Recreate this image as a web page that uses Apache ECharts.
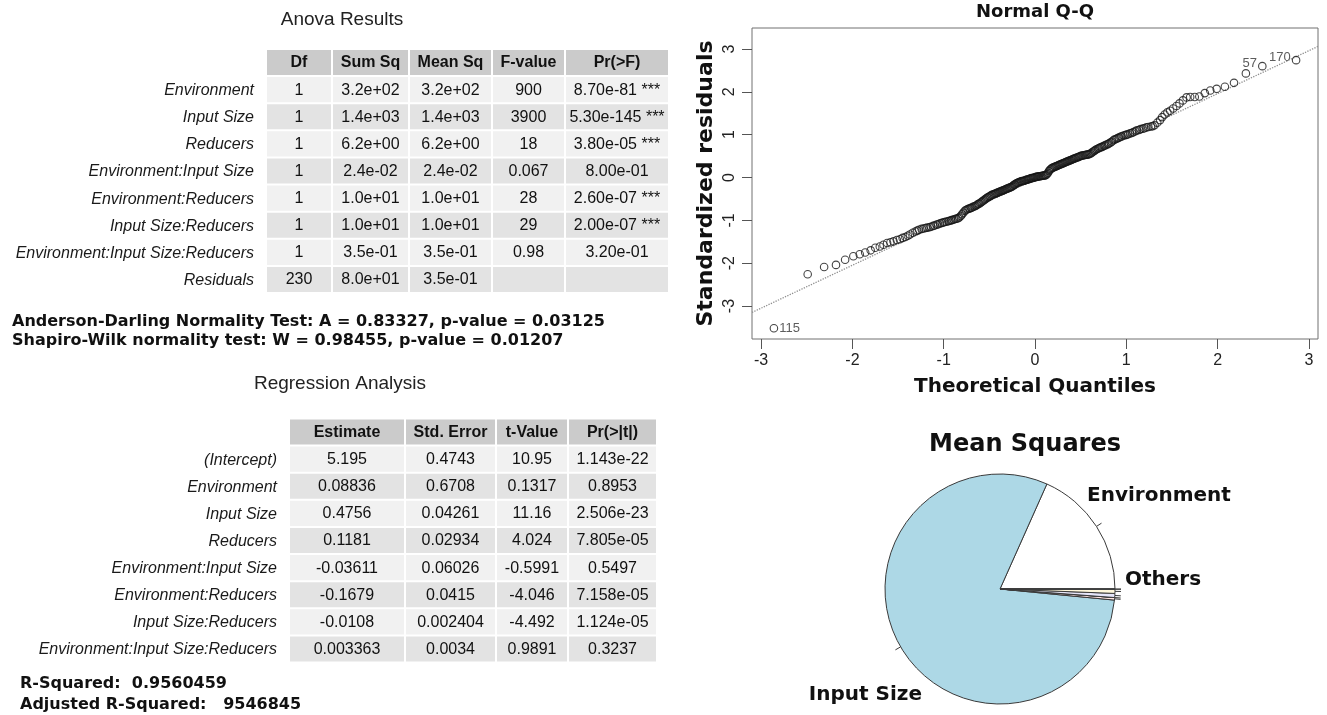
<!DOCTYPE html>
<html><head><meta charset="utf-8">
<script src="https://cdn.jsdelivr.net/npm/echarts@6/dist/echarts.min.js"></script>
<style>html,body{margin:0;padding:0;background:#fff}#c{width:1327px;height:715px}</style>
</head><body><div id="c"></div>
<script>
// ---------- ANOVA table ----------
const anovaRows = ['Environment','Input Size','Reducers','Environment:Input Size','Environment:Reducers','Input Size:Reducers','Environment:Input Size:Reducers','Residuals'];
const anovaCols = ['Df','Sum Sq','Mean Sq','F-value','Pr(>F)'];
const anovaDf = ['1','1','1','1','1','1','1','230'];
const anovaSumSq = ['3.2e+02','1.4e+03','6.2e+00','2.4e-02','1.0e+01','1.0e+01','3.5e-01','8.0e+01'];
const anovaMeanSq = ['3.2e+02','1.4e+03','6.2e+00','2.4e-02','1.0e+01','1.0e+01','3.5e-01','3.5e-01'];
const anovaF = ['900','3900','18','0.067','28','29','0.98',''];
const anovaP = ['8.70e-81 ***','5.30e-145 ***','3.80e-05 ***','8.00e-01','2.60e-07 ***','2.00e-07 ***','3.20e-01',''];

// ---------- Regression table ----------
const regRows = ['(Intercept)','Environment','Input Size','Reducers','Environment:Input Size','Environment:Reducers','Input Size:Reducers','Environment:Input Size:Reducers'];
const regCols = ['Estimate','Std. Error','t-Value','Pr(>|t|)'];
const regEstimate = ['5.195','0.08836','0.4756','0.1181','-0.03611','-0.1679','-0.0108','0.003363'];
const regStdErr = ['0.4743','0.6708','0.04261','0.02934','0.06026','0.0415','0.002404','0.0034'];
const regT = ['10.95','0.1317','11.16','4.024','-0.5991','-4.046','-4.492','0.9891'];
const regP = ['1.143e-22','0.8953','2.506e-23','7.805e-05','0.5497','7.158e-05','1.124e-05','0.3237'];

// ---------- Test statistics text ----------
const normalityTests = ['Anderson-Darling Normality Test: A = 0.83327, p-value = 0.03125','Shapiro-Wilk normality test: W = 0.98455, p-value = 0.01207'];
const rSquaredLines = ['R-Squared:  0.9560459','Adjusted R-Squared:   9546845'];

// ---------- Normal Q-Q (theoretical quantile, standardized residual) ----------
const qqTheoretical = [
-2.86,-2.49,-2.31,-2.18,-2.08,-1.99,-1.92,-1.86,-1.80,-1.75,-1.70,-1.66,-1.62,-1.583,-1.55,-1.513,-1.48,-1.45,-1.42,-1.393,
-1.37,-1.339,-1.31,-1.289,-1.27,-1.242,-1.22,-1.198,-1.18,-1.156,-1.14,-1.115,-1.10,-1.077,-1.06,-1.04,-1.02,-1.004,-0.99,-0.97,
-0.95,-0.937,-0.92,-0.905,-0.89,-0.873,-0.86,-0.843,-0.83,-0.813,-0.80,-0.784,-0.77,-0.756,-0.74,-0.728,-0.715,-0.701,-0.69,-0.674,
-0.66,-0.648,-0.635,-0.622,-0.61,-0.597,-0.585,-0.572,-0.56,-0.548,-0.535,-0.523,-0.511,-0.499,-0.487,-0.476,-0.465,-0.452,-0.44,-0.429,
-0.417,-0.406,-0.395,-0.383,-0.372,-0.361,-0.35,-0.338,-0.327,-0.316,-0.305,-0.294,-0.283,-0.272,-0.261,-0.25,-0.239,-0.228,-0.218,-0.207,
-0.196,-0.185,-0.175,-0.164,-0.153,-0.143,-0.132,-0.121,-0.111,-0.10,-0.09,-0.079,-0.068,-0.058,-0.047,-0.037,-0.026,-0.016,-0.005,
0.005,0.016,0.026,0.037,0.047,0.058,0.068,0.079,0.09,0.10,0.111,0.121,0.132,0.143,0.153,0.164,0.175,0.185,0.196,0.207,
0.218,0.228,0.239,0.25,0.261,0.272,0.283,0.294,0.305,0.316,0.327,0.338,0.35,0.361,0.372,0.383,0.395,0.406,0.417,0.429,
0.44,0.452,0.465,0.476,0.487,0.499,0.511,0.523,0.535,0.548,0.56,0.572,0.585,0.597,0.61,0.622,0.635,0.648,0.66,0.674,
0.69,0.701,0.715,0.728,0.74,0.756,0.77,0.784,0.80,0.813,0.83,0.843,0.86,0.873,0.89,0.905,0.92,0.937,0.95,0.97,
0.99,1.004,1.02,1.04,1.06,1.077,1.10,1.115,1.14,1.156,1.18,1.198,1.22,1.242,1.27,1.289,1.31,1.339,1.37,1.393,
1.42,1.45,1.48,1.513,1.55,1.583,1.62,1.66,1.70,1.75,1.80,1.86,1.92,1.99,2.08,2.18,2.31,2.49,2.86];
const qqResiduals = [
-3.52,-2.26,-2.09,-2.04,-1.92,-1.84,-1.79,-1.75,-1.70,-1.64,-1.61,-1.57,-1.53,-1.51,-1.49,-1.46,-1.44,-1.41,-1.39,-1.36,
-1.33,-1.29,-1.26,-1.24,-1.22,-1.20,-1.19,-1.18,-1.17,-1.16,-1.15,-1.13,-1.12,-1.10,-1.09,-1.07,-1.06,-1.05,-1.04,-1.03,
-1.02,-1.01,-1.00,-0.99,-0.98,-0.97,-0.96,-0.95,-0.93,-0.90,-0.86,-0.82,-0.78,-0.76,-0.74,-0.73,-0.72,-0.71,-0.70,-0.68,
-0.67,-0.66,-0.64,-0.62,-0.61,-0.59,-0.57,-0.55,-0.53,-0.51,-0.49,-0.47,-0.46,-0.44,-0.43,-0.41,-0.40,-0.39,-0.38,-0.37,
-0.36,-0.35,-0.34,-0.33,-0.32,-0.31,-0.30,-0.29,-0.28,-0.27,-0.26,-0.25,-0.24,-0.23,-0.22,-0.21,-0.19,-0.17,-0.16,-0.14,
-0.13,-0.12,-0.11,-0.10,-0.09,-0.085,-0.08,-0.075,-0.07,-0.06,-0.05,-0.045,-0.04,-0.03,-0.02,-0.015,-0.01,-0.005,0.00,
0.01,0.015,0.02,0.025,0.03,0.03,0.035,0.04,0.04,0.05,0.05,0.06,0.08,0.11,0.15,0.18,0.20,0.22,0.23,0.24,
0.25,0.26,0.27,0.28,0.29,0.30,0.31,0.32,0.33,0.34,0.35,0.36,0.37,0.38,0.39,0.40,0.41,0.42,0.43,0.44,
0.45,0.46,0.47,0.48,0.49,0.50,0.51,0.515,0.52,0.525,0.53,0.535,0.54,0.55,0.56,0.58,0.60,0.62,0.64,0.66,
0.67,0.69,0.70,0.71,0.72,0.74,0.75,0.77,0.78,0.80,0.82,0.84,0.87,0.89,0.90,0.92,0.93,0.95,0.96,0.98,
0.99,1.00,1.01,1.03,1.04,1.06,1.08,1.10,1.11,1.13,1.14,1.15,1.17,1.18,1.19,1.20,1.22,1.28,1.34,1.41,
1.47,1.52,1.56,1.61,1.67,1.73,1.80,1.87,1.88,1.88,1.89,1.97,2.03,2.07,2.12,2.21,2.43,2.60,2.74];
const qqPointIds = [{index: 0, id: '115', side: 'right'}, {index: qqTheoretical.length - 2, id: '57', side: 'left'}, {index: qqTheoretical.length - 1, id: '170', side: 'left'}];
const qqLineX = [-3.1, 3.1];
const qqLineY = [-3.15, 3.06];
const qqXTicks = [-3,-2,-1,0,1,2,3];
const qqYTicks = [-3,-2,-1,0,1,2,3];

// ---------- Pie ----------
const pieLabels = ['Environment','Input Size','Others','','','','',''];

// ---------- style / layout constants ----------
const pieColors = ['#ffffff','#add8e6','#ffe4e1','#e0ffff','#e6e6fa','#fff8dc'];
const pieLabelPos = {'Environment':[1087,496,'left'],'Input Size':[922,695,'right'],'Others':[1125,580,'left']};
const anovaColWidths = [66,77,83,73,104];
const regColWidths = [116,91,72,89];
const FONT_SANS = '"Liberation Sans", Arial, Helvetica, sans-serif';
const FONT_BOLD = '"DejaVu Sans", Verdana, sans-serif';

function buildCells(cols, columns) {
  const data = [], texts = [];
  cols.forEach((c, i) => { data.push([i, 0]); texts.push(c); });
  columns.forEach((arr, ci) => arr.forEach((v, ri) => { data.push([ci, ri + 1]); texts.push(v); }));
  return {data, texts};
}
function makeRender(colWidths, texts) {
  const edges = [0];
  colWidths.forEach(w => edges.push(edges[edges.length - 1] + w));
  return function (params, api) {
    const c = api.value(0), r = api.value(1);
    const p0 = api.coord([edges[c], r]);
    const p1 = api.coord([edges[c + 1], r]);
    const bh = api.size([0, 1])[1];
    const gap = 2;
    const x = p0[0], w = p1[0] - p0[0] - gap;
    const y = p0[1] - bh / 2, h = bh - gap;
    const header = r === 0;
    const fill = header ? '#cbcbcb' : (r % 2 === 1 ? '#f1f1f1' : '#e3e3e3');
    return {type: 'group', children: [
      {type: 'rect', shape: {x, y, width: w, height: h}, style: {fill}},
      {type: 'text', style: {x: x + w / 2, y: y + h / 2 + 0.5, text: texts[params.dataIndex], align: 'center', verticalAlign: 'middle',
        font: (header ? 'bold ' : '') + '16px ' + FONT_SANS, fill: '#111'}}
    ]};
  };
}
const anovaCells = buildCells(anovaCols, [anovaDf, anovaSumSq, anovaMeanSq, anovaF, anovaP]);
const regCells = buildCells(regCols, [regEstimate, regStdErr, regT, regP]);
const sumW = a => a.reduce((s, v) => s + v, 0);

function tableYAxis(gridIndex, rows) {
  return {type: 'category', gridIndex, data: [''].concat(rows), inverse: true,
    axisLine: {show: false}, axisTick: {show: false}, splitLine: {show: false},
    axisLabel: {fontStyle: 'italic', fontSize: 16, fontFamily: FONT_SANS, color: '#1a1a1a', margin: 13}};
}

const qqData = qqTheoretical.map((x, i) => {
  const item = {value: [x, qqResiduals[i]]};
  const lab = qqPointIds.find(p => p.index === i);
  if (lab) item.label = {show: true, formatter: lab.id, position: lab.side, distance: 1,
    fontSize: 13, fontFamily: FONT_SANS, color: '#333', offset: lab.side === 'left' ? [0, -3] : [0, 0]};
  return item;
});

const chart = echarts.init(document.getElementById('c'), null, {renderer: 'canvas'});
chart.setOption({
  animation: false,
  backgroundColor: '#ffffff',
  grid: [
    {left: 267, top: 50, width: sumW(anovaColWidths), height: 244},
    {left: 290, top: 419.5, width: sumW(regColWidths), height: 244},
    {left: 752, top: 28, width: 566, height: 311, show: true, borderColor: '#707070', borderWidth: 1, backgroundColor: 'transparent'}
  ],
  xAxis: [
    {type: 'value', gridIndex: 0, min: 0, max: sumW(anovaColWidths), show: false},
    {type: 'value', gridIndex: 1, min: 0, max: sumW(regColWidths), show: false},
    {type: 'value', gridIndex: 2, min: -3.1, max: 3.1,
      axisLine: {show: false, onZero: false},
      axisTick: {show: true, length: 10, customValues: qqXTicks, lineStyle: {color: '#555'}},
      axisLabel: {customValues: qqXTicks, fontSize: 16, fontFamily: FONT_SANS, color: '#222', margin: 14},
      splitLine: {show: false},
      name: 'Theoretical Quantiles', nameLocation: 'middle', nameGap: 38,
      nameTextStyle: {fontFamily: FONT_BOLD, fontWeight: 'bold', fontSize: 20, color: '#111'}}
  ],
  yAxis: [
    tableYAxis(0, anovaRows),
    tableYAxis(1, regRows),
    {type: 'value', gridIndex: 2, min: -3.77, max: 3.49,
      axisLine: {show: false, onZero: false},
      axisTick: {show: true, length: 10, customValues: qqYTicks, lineStyle: {color: '#555'}},
      axisLabel: {customValues: qqYTicks, rotate: 90, fontSize: 16, fontFamily: FONT_SANS, color: '#222', margin: 14},
      splitLine: {show: false},
      name: 'Standardized residuals', nameLocation: 'middle', nameGap: 35,
      nameTextStyle: {fontFamily: FONT_BOLD, fontWeight: 'bold', fontSize: 22, color: '#111'}}
  ],
  graphic: [
    {type: 'text', x: 342, y: 20, style: {text: 'Anova Results', font: '19px ' + FONT_SANS, align: 'center', verticalAlign: 'middle', fill: '#222'}},
    {type: 'text', x: 340, y: 384, style: {text: 'Regression Analysis', font: '19px ' + FONT_SANS, align: 'center', verticalAlign: 'middle', fill: '#222'}},
    {type: 'text', x: 12, y: 322, style: {text: normalityTests[0], font: 'bold 16px ' + FONT_BOLD, align: 'left', verticalAlign: 'middle', fill: '#111'}},
    {type: 'text', x: 12, y: 341, style: {text: normalityTests[1], font: 'bold 16px ' + FONT_BOLD, align: 'left', verticalAlign: 'middle', fill: '#111'}},
    {type: 'text', x: 20, y: 684, style: {text: rSquaredLines[0], font: 'bold 16px ' + FONT_BOLD, align: 'left', verticalAlign: 'middle', fill: '#111'}},
    {type: 'text', x: 20, y: 705, style: {text: rSquaredLines[1], font: 'bold 16px ' + FONT_BOLD, align: 'left', verticalAlign: 'middle', fill: '#111'}},
    {type: 'text', x: 1035, y: 12, style: {text: 'Normal Q-Q', font: 'bold 18px ' + FONT_BOLD, align: 'center', verticalAlign: 'middle', fill: '#111'}},
    {type: 'text', x: 1025, y: 445, style: {text: 'Mean Squares', font: 'bold 24px ' + FONT_BOLD, align: 'center', verticalAlign: 'middle', fill: '#111'}}
  ],
  series: [
    {type: 'custom', xAxisIndex: 0, yAxisIndex: 0, data: anovaCells.data, renderItem: makeRender(anovaColWidths, anovaCells.texts), silent: true},
    {type: 'custom', xAxisIndex: 1, yAxisIndex: 1, data: regCells.data, renderItem: makeRender(regColWidths, regCells.texts), silent: true},
    {type: 'line', xAxisIndex: 2, yAxisIndex: 2, data: qqLineX.map((x, i) => [x, qqLineY[i]]), symbol: 'none', silent: true,
      lineStyle: {type: 'dotted', color: '#8f8f8f', width: 1.3}, z: 1},
    {type: 'scatter', xAxisIndex: 2, yAxisIndex: 2, data: qqData, symbol: 'circle', symbolSize: 7.5, silent: true,
      large: false, itemStyle: {color: 'rgba(0,0,0,0)', borderColor: '#151515', borderWidth: 1.1}, z: 2},
    {type: 'pie', center: [1000, 589], radius: 115, startAngle: 0, clockwise: false, avoidLabelOverlap: false,
      minAngle: 0, silent: true,
      data: anovaRows.map((n, i) => ({name: n, value: parseFloat(anovaMeanSq[i]), itemStyle: {color: pieColors[i % pieColors.length]}})),
      itemStyle: {borderColor: '#3a3a3a', borderWidth: 1},
      label: {show: true, position: 'outside', formatter: p => pieLabels[p.dataIndex] || ' ',
        fontFamily: FONT_BOLD, fontWeight: 'bold', fontSize: 20, color: '#111'},
      labelLine: {show: true, length: 6, length2: 0, smooth: false, lineStyle: {color: '#3a3a3a', width: 1}},
      labelLayout: function (params) {
        const pos = pieLabelPos[params.text];
        if (!pos) return {labelLinePoints: params.labelLinePoints};
        return {x: pos[0], y: pos[1], align: pos[2], verticalAlign: 'middle', labelLinePoints: params.labelLinePoints};
      },
      emphasis: {disabled: true}}
  ]
});
</script>
</body></html>
